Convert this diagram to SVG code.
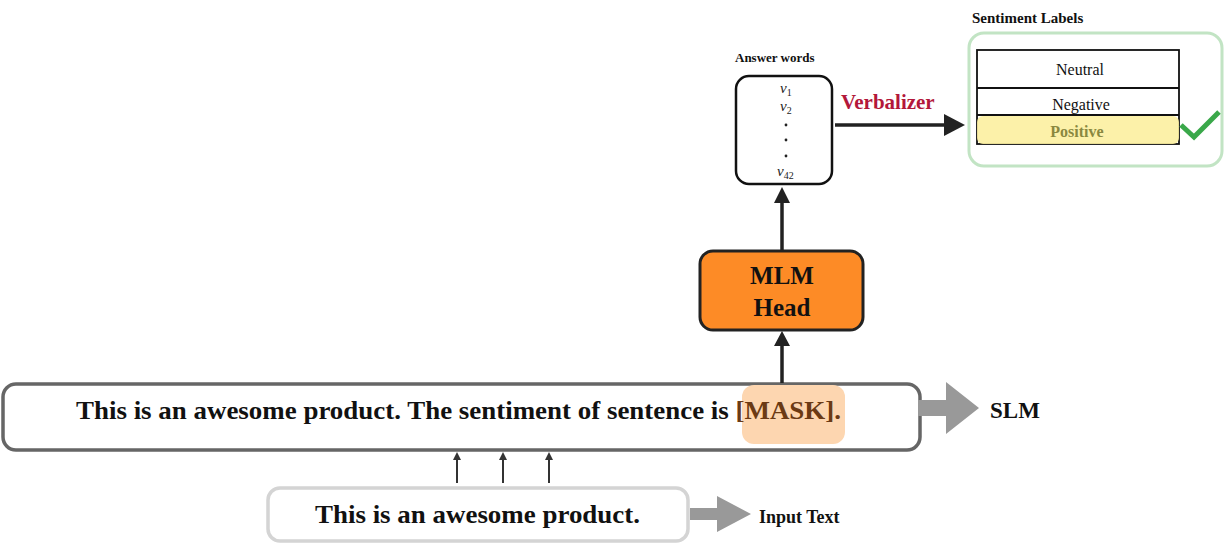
<svg xmlns="http://www.w3.org/2000/svg" width="1224" height="544" viewBox="0 0 1224 544">
<style>
.t{font-family:"Liberation Serif","DejaVu Serif",serif;font-weight:bold;fill:#111}
.r{font-family:"Liberation Serif","DejaVu Serif",serif;fill:#111}
.v{font-family:"Liberation Serif","DejaVu Serif",serif;font-style:italic;fill:#222;font-size:15px}
.ln{stroke:#222;stroke-width:3.5;fill:none}
.thin{stroke:#333;stroke-width:2;fill:none}
.gray{fill:#999}
</style>
<rect width="1224" height="544" fill="#fff"/>

<g id="main-box">
<rect x="3" y="384" width="917" height="66" rx="13" fill="#fff" stroke="#666" stroke-width="3.5"/>
<rect x="742" y="385" width="103" height="59" rx="12" fill="#fdd6b0"/>
<text class="t" x="76" y="419" font-size="25" textLength="765" lengthAdjust="spacingAndGlyphs">This is an awesome product. The sentiment of sentence is <tspan fill="#6b3a14">[MASK].</tspan></text>
</g>

<g id="slm-label">
<path class="gray" d="M918,400 H946 V382 L979,408 L946,434 V416 H918 Z"/>
<text class="t" x="990" y="418" font-size="23">SLM</text>
</g>

<g id="input-box">
<rect x="268" y="488" width="420" height="53" rx="12" fill="#fff" stroke="#d4d4d4" stroke-width="3.5"/>
<text class="t" x="315" y="523" font-size="25" textLength="325" lengthAdjust="spacingAndGlyphs">This is an awesome product.</text>
</g>

<g id="input-label">
<path class="gray" d="M690,508 H717 V496 L751,514 L717,532 V520 H690 Z"/>
<text class="t" x="759" y="523" font-size="18">Input Text</text>
</g>

<g id="mlm-head">
<rect x="700" y="251" width="163" height="79" rx="13" fill="#fd8b26" stroke="#222" stroke-width="3"/>
<text class="t" x="782" y="284" font-size="25" text-anchor="middle">MLM</text>
<text class="t" x="782" y="316" font-size="25" text-anchor="middle">Head</text>
</g>

<g id="answer-words">
<text class="t" x="735" y="62" font-size="13">Answer words</text>
<rect x="736" y="76" width="96" height="108" rx="13" fill="#fff" stroke="#111" stroke-width="2.5"/>
<text class="v" x="780" y="93">v<tspan font-size="10" font-style="normal" dy="3">1</tspan></text>
<text class="v" x="780" y="111">v<tspan font-size="10" font-style="normal" dy="3">2</tspan></text>
<circle cx="786" cy="125" r="1.4" fill="#222"/>
<circle cx="786" cy="140" r="1.4" fill="#222"/>
<circle cx="786" cy="156" r="1.4" fill="#222"/>
<text class="v" x="777" y="176">v<tspan font-size="10" font-style="normal" dy="3">42</tspan></text>
</g>

<g id="sentiment-labels">
<text class="t" x="972" y="23" font-size="15">Sentiment Labels</text>
<rect x="969" y="33" width="253" height="133" rx="15" fill="#fff" stroke="#c2e4c4" stroke-width="3"/>
<rect x="977" y="50" width="202" height="94" fill="#fff" stroke="#111" stroke-width="1.8"/>
<line x1="977" y1="88" x2="1179" y2="88" stroke="#111" stroke-width="1.8"/>
<line x1="977" y1="115" x2="1179" y2="115" stroke="#111" stroke-width="1.8"/>
<rect x="977" y="116" width="202" height="28" rx="6" fill="#fcf0a0" opacity="0.9"/>
<text class="r" x="1080" y="75" font-size="16" text-anchor="middle">Neutral</text>
<text class="r" x="1081" y="110" font-size="16" text-anchor="middle">Negative</text>
<text class="t" x="1077" y="137" font-size="16" text-anchor="middle" style="fill:#8a8840">Positive</text>
<path d="M1181,125 L1194,137 L1219,112" fill="none" stroke="#3aa84a" stroke-width="5"/>
</g>

<g id="connectors">
<line class="ln" x1="782" y1="383" x2="782" y2="345"/>
<path d="M774,346 L782,331 L790,346 Z" fill="#222"/>
<line class="ln" x1="782" y1="251" x2="782" y2="202"/>
<path d="M774,203 L782,187 L790,203 Z" fill="#222"/>
<line class="ln" x1="835" y1="125" x2="945" y2="125"/>
<path d="M944,114 L965,125 L944,136 Z" fill="#222"/>
<text class="t" x="841" y="109" font-size="21" style="fill:#b3173a">Verbalizer</text>
<line class="thin" x1="457" y1="483" x2="457" y2="458"/>
<path d="M453,460 L457,452 L461,460 Z" fill="#333"/>
<line class="thin" x1="503" y1="483" x2="503" y2="458"/>
<path d="M499,460 L503,452 L507,460 Z" fill="#333"/>
<line class="thin" x1="549" y1="483" x2="549" y2="458"/>
<path d="M545,460 L549,452 L553,460 Z" fill="#333"/>
</g>
</svg>
